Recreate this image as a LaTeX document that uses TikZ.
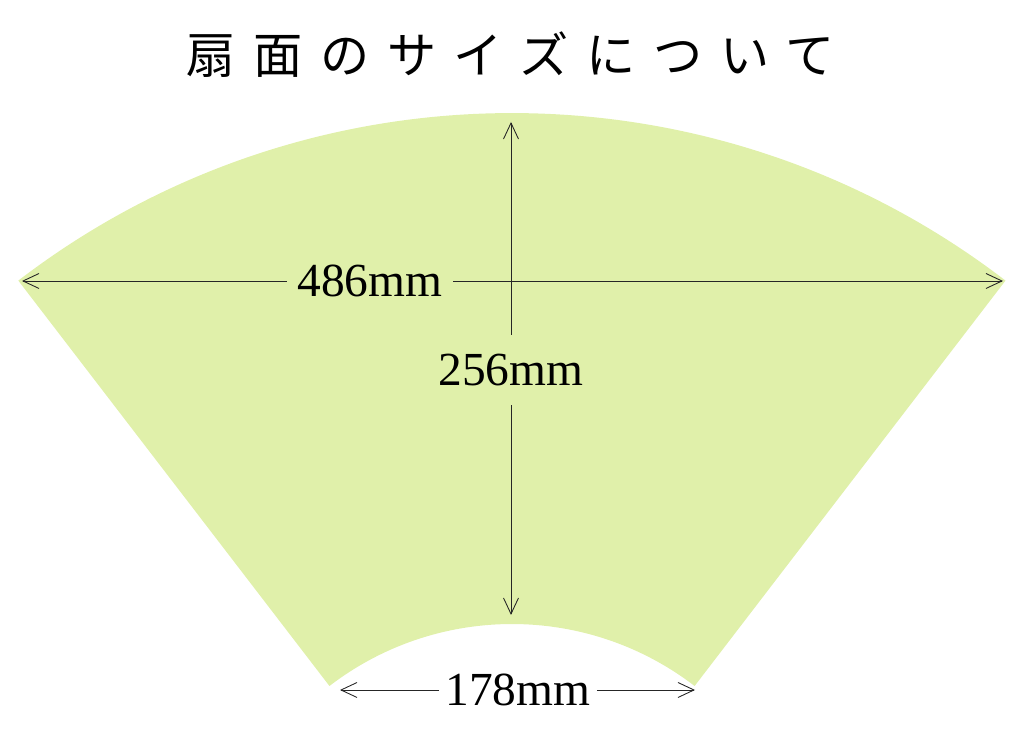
\documentclass[tikz,border=0pt]{standalone}
\usepackage{fontspec}
\setmainfont{Liberation Serif}
\newfontfamily\cjk[LetterSpace=36]{Noto Sans CJK JP}
\usetikzlibrary{calc,positioning,arrows.meta}
\definecolor{fangreen}{RGB}{224,240,170}
\tikzset{
    fan/.style={fill=fangreen, draw=none},
    dim/.style={-{Straight Barb[length=0.32cm,width=0.3cm]}, line width=0.5pt, draw=black!85},
    size/.style={font=\fontsize{27}{30}\selectfont, inner sep=0pt, minimum height=0.9cm},
    title/.style={font=\cjk\fontsize{28}{32}\selectfont, inner sep=0pt},
}

\begin{document}
\begin{tikzpicture}
        [x=0.02cm, y=0.02cm]

        \useasboundingbox (0,0) rectangle (1025,729);

        % fan
        \coordinate (C) at (512,-195);
        \fill[fan] ($(C)+(127.5:811)$) arc[start angle=127.5, end angle=52.5, radius=16.22cm]
            -- ($(C)+(52.5:300)$) arc[start angle=52.5, end angle=127.5, radius=6cm] -- cycle;

        \node[title, anchor=west] (title) at (186,674) {扇面のサイズについて};

        % width
        \coordinate (wl) at (22,448);
        \coordinate (wr) at (1003,448);
        \node[size, minimum width=3.32cm] (w486) at (370,448) {486mm};
        \draw[dim] (w486.west) -- (wl);
        \draw[dim] (w486.east) -- (wr);

        % height
        \coordinate (ht) at (511,607);
        \coordinate (hb) at (511,114);
        \node[size, minimum height=1.4cm] (h256) at (511,359) {256mm};
        \draw[dim] (h256.north) -- (ht);
        \draw[dim] (h256.south) -- (hb);

        % inner width
        \coordinate (il) at (340,39);
        \coordinate (ir) at (695,39);
        \node[size, minimum width=3.14cm] (w178) at (518,39) {178mm};
        \draw[dim] (w178.west) -- (il);
        \draw[dim] (w178.east) -- (ir);

    \end{tikzpicture}
\end{document}
